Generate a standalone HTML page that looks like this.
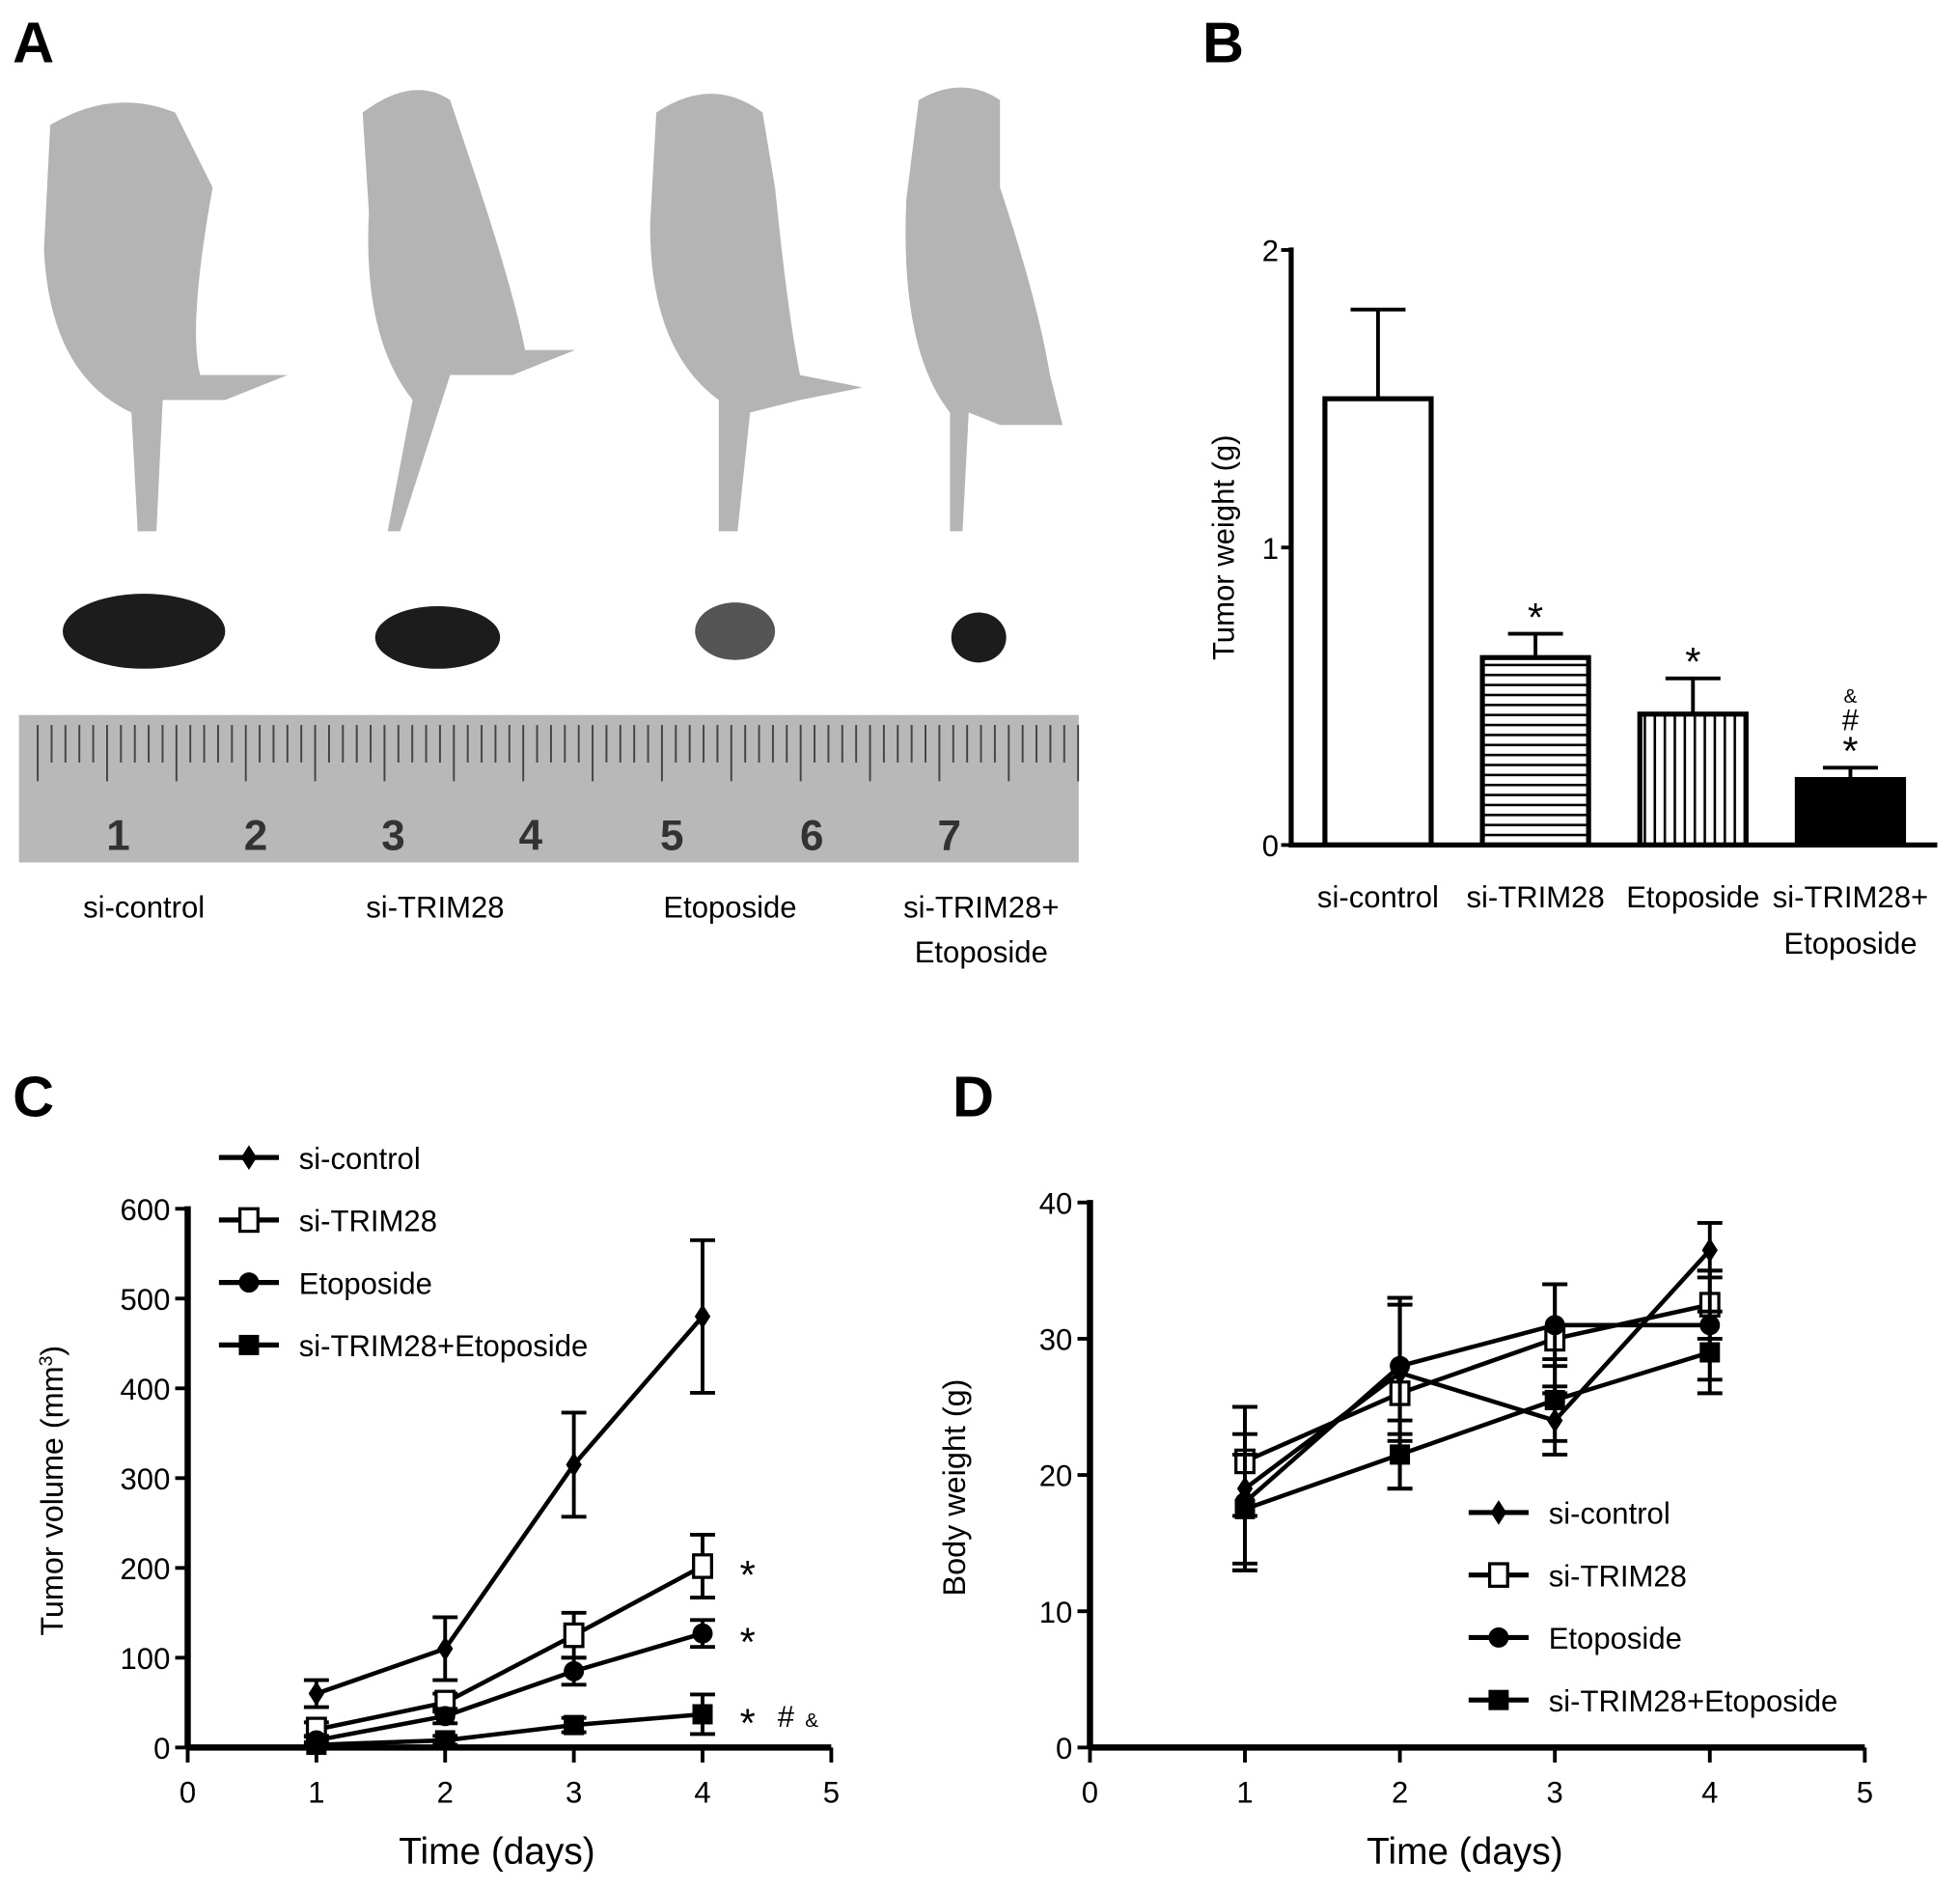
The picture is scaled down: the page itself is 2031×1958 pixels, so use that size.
<!DOCTYPE html>
<html><head><meta charset="utf-8"><style>
html,body{margin:0;padding:0;background:#fff}
svg{display:block;font-family:"Liberation Sans",sans-serif}
</style></head><body>
<svg id="fig" width="2031" height="1958" viewBox="0 0 1568 1512" xmlns="http://www.w3.org/2000/svg">
<g>
<text x="10" y="50" font-size="46" font-weight="bold">A</text>
<g fill="#b4b4b4">
<path d="M40 100 Q90 70 140 90 L170 150 Q150 260 160 300 L230 300 L180 320 L130 320 L125 425 L110 425 L105 330 Q40 300 35 200 Z"/>
<path d="M290 90 Q330 60 360 80 L380 140 Q410 230 420 280 L460 280 L410 300 L360 300 L320 425 L310 425 L330 320 Q290 270 295 170 Z"/>
<path d="M525 90 Q570 60 610 90 L620 150 Q630 250 640 300 L690 310 L640 320 L600 330 L590 425 L575 425 L575 320 Q520 280 520 180 Z"/>
<path d="M735 80 Q770 60 800 80 L800 150 Q830 240 840 300 L850 340 L800 340 L775 330 L770 425 L760 425 L760 330 Q720 280 725 160 Z"/>
</g>
<g fill="#1c1c1c">
<ellipse cx="115" cy="505" rx="65" ry="30"/>
<ellipse cx="350" cy="510" rx="50" ry="25"/>
<ellipse cx="588" cy="505" rx="32" ry="23" fill="#555"/>
<ellipse cx="783" cy="510" rx="22" ry="20"/>
</g>
<rect x="15" y="572" width="848" height="118" fill="#b8b8b8"/>
<g id="rulerTicks" stroke="#444" stroke-width="1.5"></g>
<g font-size="34" fill="#333" font-weight="bold">
<text x="85" y="680">1</text><text x="195" y="680">2</text><text x="305" y="680">3</text><text x="415" y="680">4</text><text x="528" y="680">5</text><text x="640" y="680">6</text><text x="750" y="680">7</text>
</g>
<g font-size="24">
<text x="115" y="734" text-anchor="middle">si-control</text>
<text x="348" y="734" text-anchor="middle">si-TRIM28</text>
<text x="584" y="734" text-anchor="middle">Etoposide</text>
<text x="785" y="734" text-anchor="middle">si-TRIM28+</text>
<text x="785" y="770" text-anchor="middle">Etoposide</text>
</g>
</g>
<g>
<defs>
<pattern id="hstripe" width="8" height="8" patternUnits="userSpaceOnUse"><rect width="8" height="8" fill="#fff"/><line x1="0" y1="4" x2="8" y2="4" stroke="#000" stroke-width="2"/></pattern>
<pattern id="vstripe" width="8" height="8" patternUnits="userSpaceOnUse"><rect width="8" height="8" fill="#fff"/><line x1="4" y1="0" x2="4" y2="8" stroke="#000" stroke-width="2"/></pattern>
</defs>
<text x="962" y="50" font-size="46" font-weight="bold">B</text>
<g id="chartB"></g>
</g>
<g>
<text x="10" y="893" font-size="46" font-weight="bold">C</text>
<g id="chartC"></g>
</g>
<g>
<text x="762" y="893" font-size="46" font-weight="bold">D</text>
<g id="chartD"></g>
</g>
</svg>
<script>
const NS="http://www.w3.org/2000/svg";
function mk(p,t,a,txt){const e=document.createElementNS(NS,t);for(const k in a)e.setAttribute(k,a[k]);if(txt!==undefined)e.textContent=txt;p.appendChild(e);return e;}
// ruler ticks
const rt=document.getElementById('rulerTicks');
for(let i=0;i<76;i++){const x=30+i*11.1;mk(rt,'line',{x1:x,y1:580,x2:x,y2:i%5==0?625:610});}

// ---- Panel B data ----
const bCats=["si-control","si-TRIM28","Etoposide","si-TRIM28+|Etoposide"];
const bVals=[1.5,0.63,0.44,0.22];
const bErr=[0.3,0.08,0.12,0.04];
const bTicks=[0,1,2];
const bSig=["","*","*","&|#|*"];
(function(){
 const g=document.getElementById('chartB');
 const y=v=>676-v*238, x0=1033, bx=i=>1060+i*126, bw=85;
 const fills=["#fff","url(#hstripe)","url(#vstripe)","#000"];
 bVals.forEach((v,i)=>{
  const e=mk(g,'line',{x1:bx(i)+bw/2,x2:bx(i)+bw/2,y1:y(v),y2:y(v+bErr[i]),stroke:'#000','stroke-width':3});
  
  mk(g,'line',{x1:bx(i)+bw/2-22,x2:bx(i)+bw/2+22,y1:y(v+bErr[i]),y2:y(v+bErr[i]),stroke:'#000','stroke-width':3});
  const r=mk(g,'rect',{x:bx(i),y:y(v),width:bw,height:y(0)-y(v),fill:fills[i],stroke:'#000','stroke-width':4});
  
  const ls=bCats[i].split('|');
  ls.forEach((l,j)=>{const t=mk(g,'text',{x:bx(i)+bw/2,y:726+j*37,'font-size':24,'text-anchor':'middle'},l);});
  const ss=bSig[i].split('|').filter(s=>s);
  ss.reverse().forEach((s,j)=>{mk(g,'text',{x:bx(i)+bw/2,y:y(v+bErr[i])-8-j*22+(s=='*'?6:0),'font-size':s=='&'?16:(s=='#'?24:32),'text-anchor':'middle'},s);});
 });
 mk(g,'line',{x1:x0,x2:1550,y1:676,y2:676,stroke:'#000','stroke-width':4});
 mk(g,'line',{x1:x0,x2:x0,y1:198,y2:678,stroke:'#000','stroke-width':4});
 bTicks.forEach(t=>{mk(g,'line',{x1:x0-8,x2:x0,y1:y(t),y2:y(t),stroke:'#000','stroke-width':3});
  const e=mk(g,'text',{x:x0-10,y:y(t)+9,'font-size':24,'text-anchor':'end'},t);});
 const yt=mk(g,'text',{x:987,y:438,'font-size':24,'text-anchor':'middle',transform:'rotate(-90 987 438)'},'Tumor weight (g)');
 
})();

// ---- Line chart data ----
const days=[1,2,3,4];
const xTicks=[0,1,2,3,4,5];
const seriesNames=["si-control","si-TRIM28","Etoposide","si-TRIM28+Etoposide"];
const cCtrl=[60,110,315,480], cCtrlE=[15,35,58,85];
const cTrim=[20,50,125,202], cTrimE=[8,10,25,35];
const cEto=[8,35,85,127], cEtoE=[5,8,15,15];
const cCombo=[3,8,25,37], cComboE=[3,5,8,22];
const cYTicks=[0,100,200,300,400,500,600];
const dCtrl=[19,27.5,24,36.5], dCtrlE=[6,5,2.5,2];
const dTrim=[21,26,30,32.5], dTrimE=[4,7,4,2.5];
const dEto=[18,28,31,31], dEtoE=[5,5,3,4];
const dCombo=[17.5,21.5,25.5,29], dComboE=[4,2.5,3,3];
const dYTicks=[0,10,20,30,40];

function marker(g,type,cx,cy,s){
 let e;
 if(type==0)e=mk(g,'path',{d:`M${cx} ${cy-s*1.1}L${cx+s*0.7} ${cy}L${cx} ${cy+s*1.1}L${cx-s*0.7} ${cy}Z`,fill:'#000'});
 else if(type==1)e=mk(g,'rect',{x:cx-s*0.8,y:cy-s,width:s*1.6,height:s*2,fill:'#fff',stroke:'#000','stroke-width':2.5});
 else if(type==2)e=mk(g,'circle',{cx:cx,cy:cy,r:s*0.9,fill:'#000'});
 else e=mk(g,'rect',{x:cx-s*0.9,y:cy-s*0.9,width:s*1.8,height:s*1.8,fill:'#000'});
 
}
function lineChart(id,ox,x5,oy,ymaxPix,ymax,yT,vals,errs,yTitle,legX,legY,unitSup){
 const g=document.getElementById(id);
 const x=d=>ox+d*(x5-ox)/5, y=v=>oy-v*(oy-ymaxPix)/ymax;
 vals.forEach((s,k)=>{
  const pts=days.map((d,i)=>x(d)+','+y(s[i])).join(' ');
  const pl=mk(g,'polyline',{points:pts,fill:'none',stroke:'#000','stroke-width':3.5});
  
  days.forEach((d,i)=>{const e=errs[k][i],X=x(d);
   mk(g,'line',{x1:X,x2:X,y1:y(s[i]-e),y2:y(s[i]+e),stroke:'#000','stroke-width':3});
   [s[i]-e,s[i]+e].forEach(v=>mk(g,'line',{x1:X-10,x2:X+10,y1:y(v),y2:y(v),stroke:'#000','stroke-width':3}));
   marker(g,k,X,y(s[i]),9);
  });
 });
 mk(g,'line',{x1:ox,x2:x5,y1:oy,y2:oy,stroke:'#000','stroke-width':5});
 mk(g,'line',{x1:ox,x2:ox,y1:ymaxPix-2,y2:oy,stroke:'#000','stroke-width':5});
 xTicks.forEach(t=>{mk(g,'line',{x1:x(t),x2:x(t),y1:oy,y2:oy+12,stroke:'#000','stroke-width':3});
  const e=mk(g,'text',{x:x(t),y:oy+44,'font-size':24,'text-anchor':'middle'},t);});
 yT.forEach(t=>{mk(g,'line',{x1:ox-10,x2:ox,y1:y(t),y2:y(t),stroke:'#000','stroke-width':3});
  const e=mk(g,'text',{x:ox-14,y:y(t)+9,'font-size':24,'text-anchor':'end'},t);});
 const xt=mk(g,'text',{x:(ox+x5)/2-10,y:oy+93,'font-size':30,'text-anchor':'middle'},'Time (days)');
 
 const ycx=ox-100, ycy=(oy+ymaxPix)/2+10;
 const yt=mk(g,'text',{x:ycx,y:ycy,'font-size':25,'text-anchor':'middle',transform:`rotate(-90 ${ycx} ${ycy})`},yTitle);
 if(unitSup){yt.textContent='Tumor volume (mm';const ts=mk(yt,'tspan',{'baseline-shift':'super','font-size':15},'3');mk(yt,'tspan',{},')');}
 
 seriesNames.forEach((n,k)=>{const ly=legY+k*50;
  const le=mk(g,'g',{});
  mk(le,'line',{x1:legX,x2:legX+48,y1:ly,y2:ly,stroke:'#000','stroke-width':4,'stroke-dasharray':k==1?'8 0 40':'none'});
  marker(le,k,legX+24,ly,9);
  mk(le,'text',{x:legX+64,y:ly+9,'font-size':24},n);
 });
 return {x,y,g};
}
const C=lineChart('chartC',150,665,1398,967,600,cYTicks,[cCtrl,cTrim,cEto,cCombo],[cCtrlE,cTrimE,cEtoE,cComboE],'Tumor volume (mm3)',175,926,true);
[[cTrim[3],'*'],[cEto[3],'*'],[cCombo[3],'*']].forEach(([v,s],i)=>{mk(C.g,'text',{x:C.x(4)+36,y:C.y(v)+18,'font-size':32,'text-anchor':'middle'},s);});
mk(C.g,'text',{x:C.x(4)+60,y:C.y(cCombo[3])+10,'font-size':24},'#');
mk(C.g,'text',{x:C.x(4)+82,y:C.y(cCombo[3])+10,'font-size':16},'&');
lineChart('chartD',872,1492,1398,962,40,dYTicks,[dCtrl,dTrim,dEto,dCombo],[dCtrlE,dTrimE,dEtoE,dComboE],'Body weight (g)',1175,1210,false);
</script>
</body></html>
